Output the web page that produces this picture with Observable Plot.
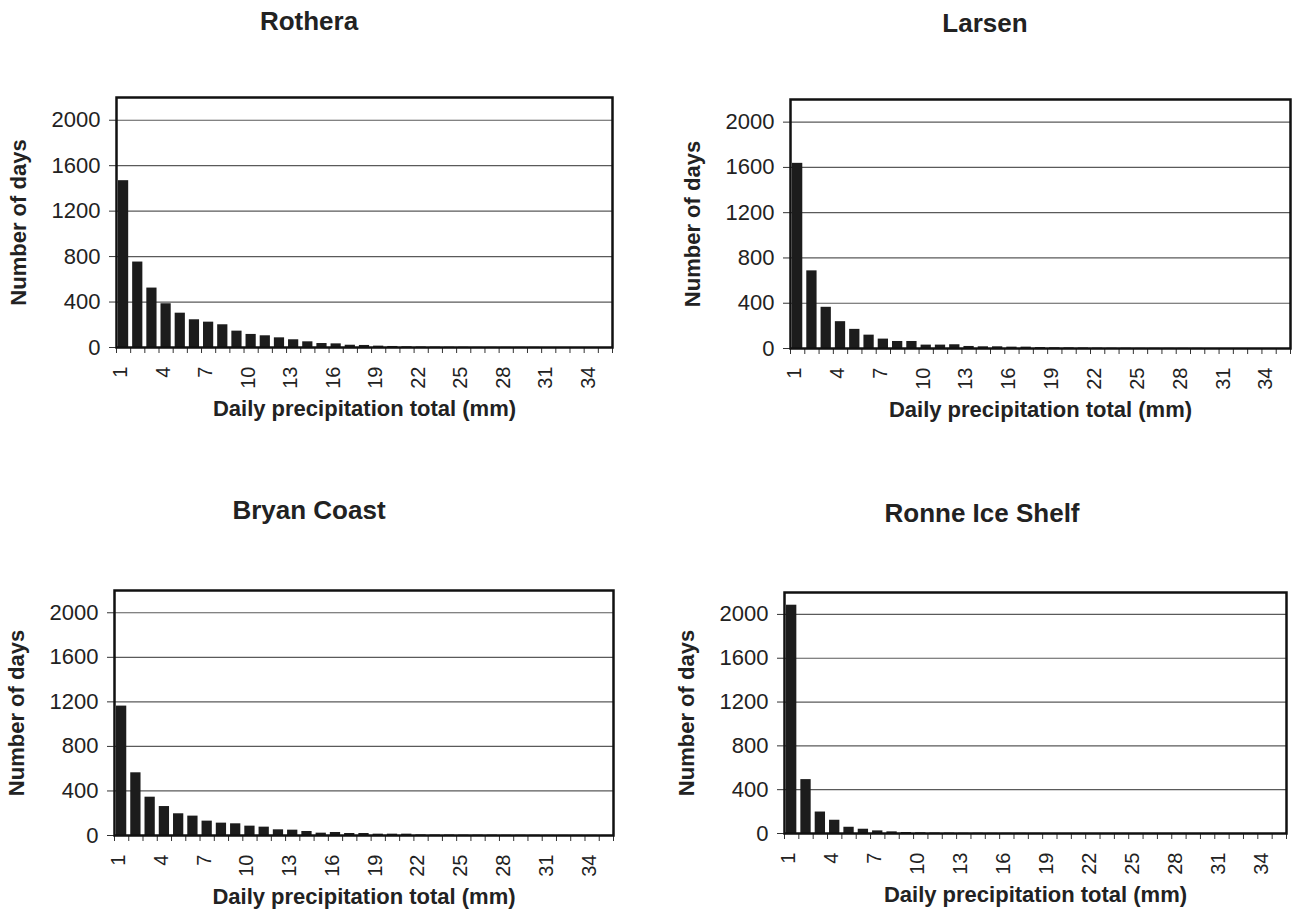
<!DOCTYPE html>
<html>
<head>
<meta charset="utf-8">
<script src="https://cdn.jsdelivr.net/npm/d3@7"></script>
<script src="https://cdn.jsdelivr.net/npm/@observablehq/plot@0.6"></script>
<style>
  html, body { margin: 0; padding: 0; background: #fff; }
  #wrap { position: relative; width: 1302px; height: 918px; overflow: hidden; background: #fff;
          font-family: "Liberation Sans", Arial, sans-serif; color: #222; }
  .ptitle { position: absolute; font-weight: bold; font-size: 26px; line-height: 26px;
            transform: translateX(-50%); white-space: nowrap; color: #222; }
  .panel { position: absolute; }
</style>
</head>
<body>
<div id="wrap"></div>
<script>
// ---- data ----
const days = [1,2,3,4,5,6,7,8,9,10,11,12,13,14,15,16,17,18,19,20,21,22,23,24,25,26,27,28,29,30,31,32,33,34,35];
const rothera = [1468,752,523,385,302,244,223,200,144,115,103,85,68,50,35,32,20,18,12,9,6,4,3,2,2,1,1,1,1,1,0,0,0,0,0];
const larsen  = [1636,686,364,237,169,118,83,62,62,30,30,33,18,15,15,12,12,8,6,5,4,3,2,2,1,1,1,1,1,0,0,0,0,0,0];
const bryanCoast = [1162,563,344,260,195,174,129,111,105,84,75,51,48,36,21,27,18,18,12,12,12,5,4,4,3,3,3,2,2,2,1,1,1,1,1];
const ronneIceShelf = [2084,492,196,121,57,39,24,15,9,6,4,3,2,2,1,1,1,1,0,0,0,0,0,0,0,0,0,0,0,0,0,0,0,0,0];
const panelTitles = ["Rothera", "Larsen", "Bryan Coast", "Ronne Ice Shelf"];
const yTicks = [0, 400, 800, 1200, 1600, 2000];
const xTickLabels = [1, 4, 7, 10, 13, 16, 19, 22, 25, 28, 31, 34];
const xTitle = "Daily precipitation total (mm)";
const yTitle = "Number of days";

// ---- layout (frame positions in page pixels) ----
const layouts = [
  {frame: {left: 116, top: 97,  w: 496, h: 250}, title: {cx: 309, top: 8}},
  {frame: {left: 790, top: 99,  w: 500, h: 249}, title: {cx: 985, top: 10}},
  {frame: {left: 114, top: 590, w: 499, h: 245}, title: {cx: 309, top: 497}},
  {frame: {left: 784, top: 592, w: 502, h: 241}, title: {cx: 982, top: 500}}
];
const seriesList = [rothera, larsen, bryanCoast, ronneIceShelf];
const boundaries = d3.range(0.5, 36, 1);

const wrap = document.getElementById("wrap");
const mL = 112, mT = 10, mR = 10, mB = 82;

seriesList.forEach((vals, i) => {
  const L = layouts[i];
  const data = days.map((d, j) => ({day: d, n: vals[j]}));
  const chart = Plot.plot({
    width: L.frame.w + mL + mR,
    height: L.frame.h + mT + mB,
    marginLeft: mL, marginRight: mR, marginTop: mT, marginBottom: mB,
    style: {fontFamily: '"Liberation Sans", Arial, sans-serif', color: "#222", background: "transparent", overflow: "visible"},
    x: {type: "linear", domain: [0.5, 35.5]},
    y: {domain: [0, 2200]},
    marks: [
      Plot.ruleY(yTicks.filter(v => v > 0), {stroke: "#5a5a5a", strokeWidth: 1.2}),
      Plot.rectY(data, {x1: d => d.day - 0.36, x2: d => d.day + 0.36, y: "n", fill: "#1c1c1c"}),
      Plot.axisY(yTicks, {tickSize: 7, tickPadding: 9, fontSize: 22, tickFormat: d => String(d), label: null, stroke: "#333"}),
      Plot.axisX(boundaries, {tickSize: 6, tickFormat: () => "", label: null, stroke: "#333"}),
      Plot.axisX(xTickLabels, {tickSize: 0, tickRotate: -90, tickPadding: 19, fontSize: 20, dx: -3, tickFormat: d => String(d), label: null}),
      Plot.text([xTitle], {text: d => d, frameAnchor: "bottom", dy: 68, textAnchor: "middle", fontWeight: "bold", fontSize: 22, fill: "#222"}),
      Plot.text([yTitle], {text: d => d, frameAnchor: "left", dx: -98, rotate: -90, textAnchor: "middle", fontWeight: "bold", fontSize: 22, fill: "#222"}),
      Plot.frame({stroke: "#111", strokeWidth: 2.5})
    ]
  });
  chart.classList.add("panel");
  chart.style.left = (L.frame.left - mL) + "px";
  chart.style.top = (L.frame.top - mT) + "px";
  chart.style.maxWidth = "none";
  wrap.appendChild(chart);

  const t = document.createElement("div");
  t.className = "ptitle";
  t.textContent = panelTitles[i];
  t.style.left = L.title.cx + "px";
  t.style.top = L.title.top + "px";
  wrap.appendChild(t);
});
</script>
</body>
</html>
